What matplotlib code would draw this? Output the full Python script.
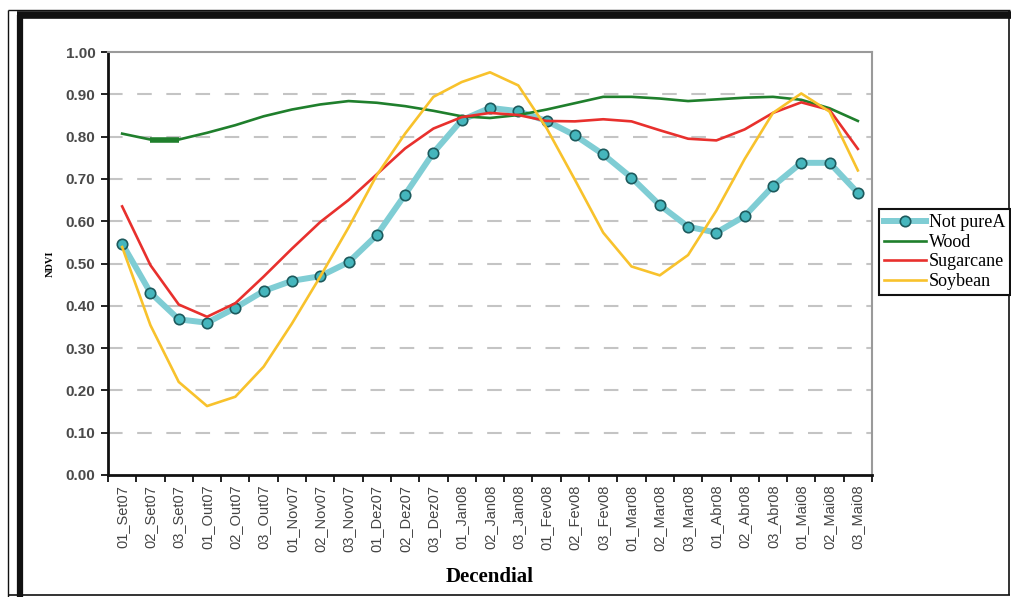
import matplotlib.pyplot as plt
from matplotlib.lines import Line2D
import numpy as np

# Dados (NDVI por decendio)
labels = ['01_Set07', '02_Set07', '03_Set07', '01_Out07', '02_Out07', '03_Out07',
          '01_Nov07', '02_Nov07', '03_Nov07', '01_Dez07', '02_Dez07', '03_Dez07',
          '01_Jan08', '02_Jan08', '03_Jan08', '01_Fev08', '02_Fev08', '03_Fev08',
          '01_Mar08', '02_Mar08', '03_Mar08', '01_Abr08', '02_Abr08', '03_Abr08',
          '01_Mai08', '02_Mai08', '03_Mai08']

not_pure = [0.547, 0.431, 0.368, 0.360, 0.395, 0.435, 0.459, 0.470, 0.503, 0.567,
            0.663, 0.762, 0.839, 0.868, 0.860, 0.837, 0.803, 0.758, 0.703, 0.638,
            0.587, 0.573, 0.612, 0.683, 0.738, 0.738, 0.667]
wood = [0.807, 0.793, 0.793, 0.809, 0.827, 0.848, 0.864, 0.876, 0.884, 0.880,
        0.872, 0.861, 0.848, 0.844, 0.851, 0.864, 0.879, 0.894, 0.894, 0.890,
        0.884, 0.888, 0.892, 0.894, 0.887, 0.867, 0.837]
sugarcane = [0.635, 0.496, 0.403, 0.374, 0.406, 0.469, 0.535, 0.598, 0.650, 0.711,
             0.772, 0.819, 0.846, 0.856, 0.851, 0.837, 0.836, 0.841, 0.836, 0.815,
             0.795, 0.791, 0.817, 0.856, 0.881, 0.863, 0.771]
soybean = [0.539, 0.354, 0.220, 0.163, 0.185, 0.256, 0.358, 0.469, 0.585, 0.709,
           0.807, 0.894, 0.929, 0.952, 0.921, 0.820, 0.698, 0.573, 0.493, 0.472,
           0.520, 0.625, 0.747, 0.856, 0.902, 0.859, 0.720]

W, H = 1011, 597

def px(x, y):
    return (x / W, 1 - y / H)

fig = plt.figure(figsize=(W / 100, H / 100), dpi=100)
fig.patch.set_facecolor('white')

# moldura externa
for (x0, y0, x1, y1, lw) in [(8, 10, 1010, 10, 1.0), (8, 10, 8, 597, 1.0),
                             (1009, 10, 1009, 595, 1.2), (8, 595, 1010, 595, 1.2),
                             (17, 15, 1011, 15, 5.5), (20, 15, 20, 597, 4.5)]:
    a, b = px(x0, y0)
    c, d = px(x1, y1)
    fig.add_artist(Line2D([a, c], [b, d], color='#111111', lw=lw,
                          transform=fig.transFigure, solid_capstyle='butt'))

ax = fig.add_axes([108 / W, 1 - 475 / H, (872 - 108) / W, (475 - 52) / H])
x = np.arange(len(labels))

ax.plot(x, not_pure, color='#7fcdd4', lw=4.3, marker='o', markersize=7.5,
        markerfacecolor='#45b6bd', markeredgecolor='#1d5a5d', markeredgewidth=1.2,
        label='Not pureA', zorder=3)
ax.plot(x, wood, color='#1f7f2c', lw=1.9, label='Wood', zorder=3)
ax.plot(x[1:3], wood[1:3], color='#1f7f2c', lw=4, solid_capstyle='butt', zorder=3)
ax.plot(x, sugarcane, color='#e8302d', lw=1.9, label='Sugarcane', zorder=3)
ax.plot(x, soybean, color='#f8c22c', lw=1.9, label='Soybean', zorder=4)

ax.set_xlim(-0.5, len(labels) - 0.5)
ax.set_ylim(0, 1.0)
ax.set_yticks(np.arange(0, 1.01, 0.1))
ax.set_yticklabels(['%.2f' % v for v in np.arange(0, 1.01, 0.1)],
                   fontfamily='Liberation Sans', fontsize=11, fontweight='bold',
                   color='#4a4a4a')
for v in np.arange(0.1, 0.95, 0.1):
    ax.axhline(v, color='#c4c4c4', lw=1.5, dashes=(7, 7), zorder=1)

ax.set_xticks(x)
ax.set_xticklabels(labels, rotation=90, fontfamily='Liberation Sans',
                   fontsize=10.5, color='#444444')
ax.set_xticks(np.arange(-0.5, len(labels), 1.0), minor=True)
ax.tick_params(axis='x', which='major', length=0, pad=7)
ax.tick_params(axis='x', which='minor', length=5, width=1.3, direction='out', color='#111111')
ax.tick_params(axis='y', length=5, width=1.3, direction='out', color='#111111', pad=4)

ax.spines['left'].set_linewidth(2)
ax.spines['bottom'].set_linewidth(2)
ax.spines['left'].set_color('#111111')
ax.spines['bottom'].set_color('#111111')
ax.spines['top'].set_color('#9a9a9a')
ax.spines['right'].set_color('#9a9a9a')
ax.spines['top'].set_linewidth(1.5)
ax.spines['right'].set_linewidth(1.5)

ax.set_ylabel('NDVI', fontfamily='Liberation Serif', fontweight='bold', fontsize=7.5,
              labelpad=8)
ax.set_xlabel('Decendial', fontfamily='Liberation Serif', fontweight='bold', fontsize=15,
              labelpad=11)

leg = fig.legend(loc='upper left', bbox_to_anchor=px(879, 209),
                 prop={'family': 'Liberation Serif', 'size': 13},
                 frameon=True, fancybox=False, edgecolor='#111111', framealpha=1,
                 borderpad=0.3, labelspacing=0.14, handlelength=2.3,
                 handletextpad=0.15, borderaxespad=0)
leg.get_frame().set_linewidth(1.5)

fig.savefig('out.png', dpi=100)
